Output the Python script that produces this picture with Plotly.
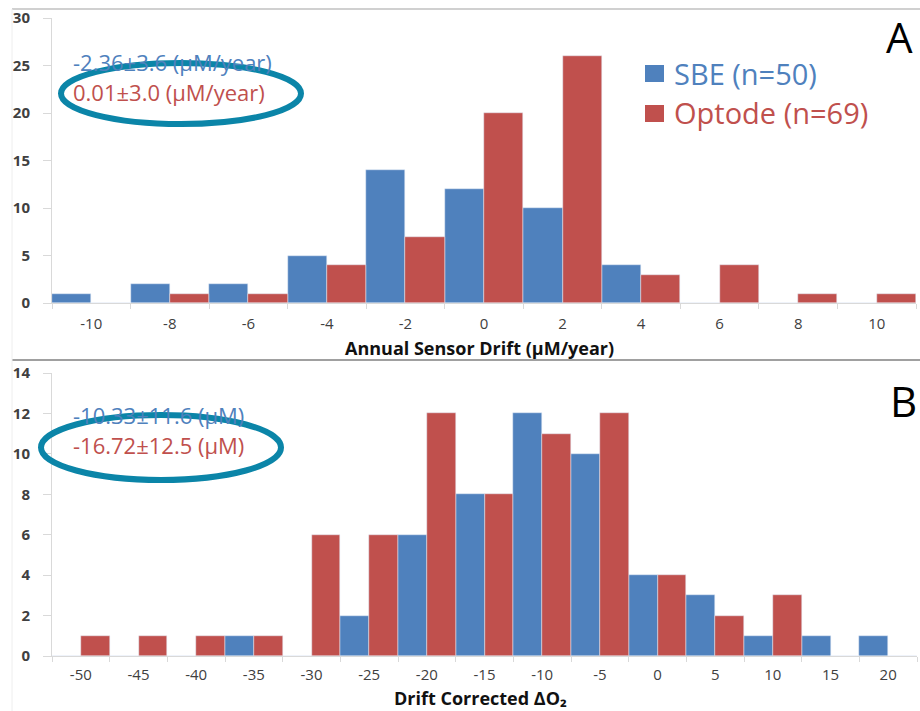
import plotly.graph_objects as go

# ---------------- data ----------------
cats_a = ["-10", "-8", "-6", "-4", "-2", "0", "2", "4", "6", "8", "10"]
sbe_a = [1, 2, 2, 5, 14, 12, 10, 4, 0, 0, 0]
opt_a = [0, 1, 1, 4, 7, 20, 26, 3, 4, 1, 1]

cats_b = ["-50", "-45", "-40", "-35", "-30", "-25", "-20", "-15", "-10", "-5", "0", "5", "10", "15", "20"]
sbe_b = [0, 0, 0, 1, 0, 2, 6, 8, 12, 10, 4, 3, 1, 1, 1]
opt_b = [1, 1, 1, 1, 6, 6, 12, 8, 11, 12, 4, 2, 3, 0, 0]

stat_a = ["-2.36±3.6 (µM/year)", "0.01±3.0 (µM/year)"]
stat_b = ["-10.33±11.6 (µM)", "-16.72±12.5 (µM)"]
legend_names = ["SBE (n=50)", "Optode (n=69)"]
title_a = "Annual Sensor Drift (µM/year)"
title_b = "Drift Corrected ΔO₂"

BLUE = "#4F81BD"
RED = "#C0504D"
TEAL = "#0B85A8"
AXC = "#D9D9D9"
TXT = "#404040"
FONT = "Open Sans"

W, H = 920, 711


def px(x):
    return x / W


def py(y):
    return 1 - y / H


fig = go.Figure()
fig.add_bar(x=cats_a, y=sbe_a, marker_color=BLUE, name=legend_names[0], xaxis="x", yaxis="y", showlegend=False)
fig.add_bar(x=cats_a, y=opt_a, marker_color=RED, name=legend_names[1], xaxis="x", yaxis="y", showlegend=False)
fig.add_bar(x=cats_b, y=sbe_b, marker_color=BLUE, name=legend_names[0], xaxis="x2", yaxis="y2", showlegend=False)
fig.add_bar(x=cats_b, y=opt_b, marker_color=RED, name=legend_names[1], xaxis="x2", yaxis="y2", showlegend=False)

xcommon = dict(type="category", tickson="boundaries", ticks="outside", ticklen=5, tickcolor=AXC,
               showline=True, linecolor=AXC, linewidth=1, showgrid=False, zeroline=False, automargin=False,
               tickfont=dict(family=FONT, size=15, color=TXT))
ycommon = dict(ticks="outside", ticklen=8, tickcolor=AXC, showline=True, linecolor=AXC, linewidth=1,
               showgrid=False, zeroline=False, ticklabelstandoff=10, automargin=False,
               tickfont=dict(family=FONT, size=15, color=TXT, weight="bold"))

fig.update_layout(
    width=W, height=H, margin=dict(l=0, r=0, t=0, b=0, autoexpand=False),
    paper_bgcolor="white", plot_bgcolor="white",
    barmode="group", bargap=0, bargroupgap=0, showlegend=False,
    font=dict(family=FONT),
    xaxis=dict(domain=[px(52), px(916)], anchor="y", range=[-0.5, 10.5], ticklabelstandoff=7, **xcommon),
    yaxis=dict(domain=[py(303), py(18)], anchor="x", range=[0, 30], dtick=5, **ycommon),
    xaxis2=dict(domain=[px(52), px(917)], anchor="y2", range=[-0.5, 14.5], ticklabelstandoff=5, **xcommon),
    yaxis2=dict(domain=[py(656), py(373)], anchor="x2", range=[0, 14], dtick=2, **ycommon),
)

ann = []
# axis titles
ann.append(dict(text="<b>" + title_a + "</b>", x=px(479), y=py(348), font=dict(size=18, color="#111")))
ann.append(dict(text="<b>" + title_b + "</b>", x=px(480), y=py(698), font=dict(size=18, color="#111")))
# stats text
ann.append(dict(text=stat_a[0], x=px(71), y=py(62), xanchor="left", font=dict(size=22, color=BLUE)))
ann.append(dict(text=stat_a[1], x=px(71), y=py(92), xanchor="left", font=dict(size=22, color=RED)))
ann.append(dict(text=stat_b[0], x=px(71), y=py(415), xanchor="left", font=dict(size=22, color=BLUE)))
ann.append(dict(text=stat_b[1], x=px(71), y=py(445), xanchor="left", font=dict(size=22, color=RED)))
# legend text
ann.append(dict(text=legend_names[0], x=px(672), y=py(73), xanchor="left", font=dict(size=29, color=BLUE)))
ann.append(dict(text=legend_names[1], x=px(672), y=py(113), xanchor="left", font=dict(size=29, color=RED)))
# panel letters
ann.append(dict(text="A", x=px(899), y=py(36), font=dict(size=42, color="black")))
ann.append(dict(text="B", x=px(903), y=py(400), font=dict(size=42, color="black")))

for a in ann:
    a.update(xref="paper", yref="paper", showarrow=False)
    a.setdefault("xanchor", "center")
    a["yanchor"] = "middle"
    a["font"]["family"] = FONT
fig.update_layout(annotations=ann)

shapes = []
# frame lines
shapes.append(dict(type="line", x0=px(12), x1=px(920), y0=py(9), y1=py(9), line=dict(color="#D0D0D0", width=2)))
shapes.append(dict(type="line", x0=px(12), x1=px(920), y0=py(360), y1=py(360), line=dict(color="#A0A0A0", width=2)))
shapes.append(dict(type="line", x0=px(12), x1=px(12), y0=py(9), y1=py(711), line=dict(color="#EEEEEE", width=1)))
# legend squares
shapes.append(dict(type="rect", x0=px(645), x1=px(664), y0=py(65), y1=py(82), fillcolor=BLUE, line=dict(width=0)))
shapes.append(dict(type="rect", x0=px(645), x1=px(664), y0=py(105), y1=py(122), fillcolor=RED, line=dict(width=0)))
# ellipses
shapes.append(dict(type="circle", x0=px(61), x1=px(301), y0=py(63), y1=py(124), line=dict(color=TEAL, width=6)))
shapes.append(dict(type="circle", x0=px(41), x1=px(281), y0=py(415), y1=py(480), line=dict(color=TEAL, width=6)))
for s in shapes:
    s.update(xref="paper", yref="paper", layer="above")
fig.update_layout(shapes=shapes)

fig.write_html("out.html", config={"displayModeBar": False},
               post_script="document.body.style.margin='0';document.body.style.overflow='hidden';")
